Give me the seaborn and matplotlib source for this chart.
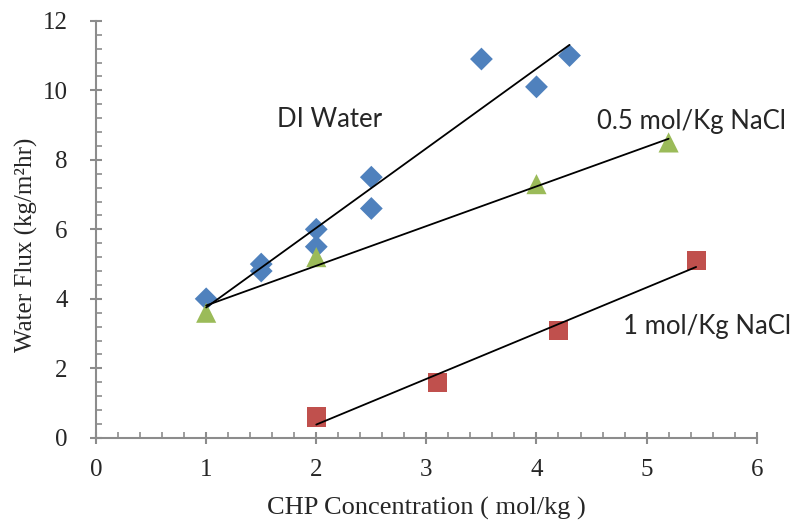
import numpy as np
import pandas as pd
import matplotlib
matplotlib.use("Agg")
import matplotlib.pyplot as plt
import seaborn as sns
from matplotlib.ticker import MultipleLocator

# Données
di_x = [1, 1.5, 1.5, 2, 2, 2.5, 2.5, 3.5, 4, 4.3]
di_y = [4.0, 5.0, 4.8, 6.0, 5.5, 7.5, 6.6, 10.9, 10.1, 11.0]

nacl05_x = [1, 2, 4, 5.2]
nacl05_y = [3.6, 5.2, 7.3, 8.5]

nacl1_x = [2, 3.1, 4.2, 5.45]
nacl1_y = [0.6, 1.6, 3.1, 5.1]

series = [
    ("DI Water", di_x, di_y, "#4F81BD", "D", 135),
    ("0.5 mol/Kg NaCl", nacl05_x, nacl05_y, "#9BBB59", "^", 210),
    ("1 mol/Kg NaCl", nacl1_x, nacl1_y, "#C0504D", "s", 190),
]

sns.set_style("white")
plt.rcParams["font.family"] = ["Liberation Serif", "DejaVu Serif"]

fig = plt.figure(figsize=(7.94, 5.20), dpi=100)
ax = fig.add_axes([0.121, 0.158, 0.832, 0.802])

for name, xs, ys, color, marker, size in series:
    df = pd.DataFrame({"x": xs, "y": ys})
    sns.scatterplot(data=df, x="x", y="y", color=color, marker=marker, s=size,
                    edgecolor="none", ax=ax, zorder=2)
    # courbe de tendance linéaire
    sns.regplot(data=df, x="x", y="y", scatter=False, ci=None, truncate=True,
                line_kws={"color": "black", "lw": 1.3, "zorder": 3}, ax=ax)

# Étiquettes des séries
lab_font = ["Lato", "DejaVu Sans"]
ax.text(2.12, 9.15, "DI Water", fontsize=18.5, family=lab_font, ha="center", va="center")
ax.text(4.55, 9.1, "0.5 mol/Kg NaCl", fontsize=18.5, family=lab_font, ha="left", va="center")
ax.text(4.79, 3.2, "1 mol/Kg NaCl", fontsize=18.5, family=lab_font, ha="left", va="center")

ax.set_xlim(0, 6)
ax.set_ylim(0, 12)
ax.xaxis.set_major_locator(MultipleLocator(1))
ax.xaxis.set_minor_locator(MultipleLocator(0.2))
ax.yaxis.set_major_locator(MultipleLocator(2))
ax.yaxis.set_minor_locator(MultipleLocator(0.4))

gray = "#8C8C8C"
for side in ["top", "right"]:
    ax.spines[side].set_visible(False)
for side in ["left", "bottom"]:
    ax.spines[side].set_color(gray)
    ax.spines[side].set_linewidth(1.5)

ax.tick_params(which="major", direction="inout", length=9, width=1.5, color=gray,
               labelsize=18, pad=11, left=True, bottom=True)
ax.tick_params(axis="y", which="major", pad=16)
ax.tick_params(which="minor", direction="in", length=4, width=1.2, color=gray,
               left=True, bottom=True)

ax.set_xlabel("CHP Concentration ( mol/kg )", fontsize=19)
ax.set_ylabel("Water Flux (kg/m²hr)", fontsize=18)
ax.xaxis.set_label_coords(0.5, -0.142)
ax.yaxis.set_label_coords(-0.088, 0.463)
ax.grid(False)

plt.savefig("out.png", dpi=100)
